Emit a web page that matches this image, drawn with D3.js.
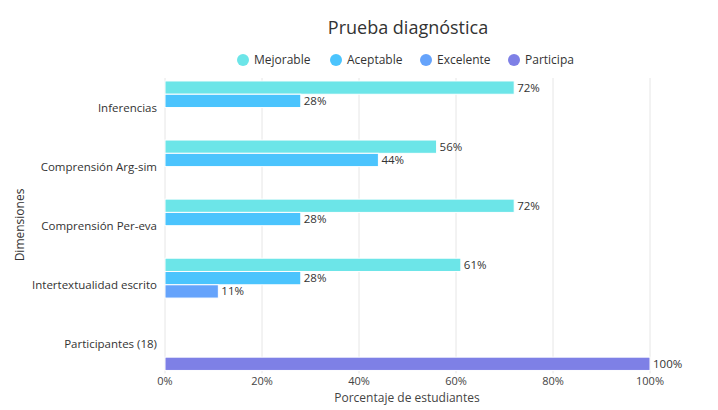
<!DOCTYPE html>
<html><head><meta charset="utf-8">
<script src="https://cdn.jsdelivr.net/npm/d3@7"></script>
<style>body{margin:0;background:#fff;font-family:"Open Sans",sans-serif;}</style>
</head><body><svg id="c" width="718" height="410"></svg>
<script>
const categories = ["Inferencias","Comprensión Arg-sim","Comprensión Per-eva","Intertextualidad escrito","Participantes (18)"];
const seriesNames = ["Mejorable","Aceptable","Excelente","Participa"];
const colors = ["#6ce5e8","#4bc4fd","#65a3fb","#7e80e6"];
const mejorable = [72,56,72,61,null];
const aceptable = [28,44,28,28,null];
const excelente = [null,null,null,11,null];
const participa = [null,null,null,null,100];
const xTicks = [0,20,40,60,80,100];
const seriesVals = [mejorable,aceptable,excelente,participa];

const svg = d3.select("#c");
const m = {l:165,r:650,t:78,b:373.4};
const x = d3.scaleLinear().domain([0,100]).range([m.l,m.r]);
const y = d3.scaleBand().domain(categories).range([m.t,m.b]).paddingInner(0.1).paddingOuter(0.05);
const y1 = d3.scaleBand().domain(seriesNames).range([0,y.bandwidth()]);

svg.append("text").attr("x",408).attr("y",34).attr("text-anchor","middle")
  .attr("font-size",18).attr("fill","#333").text("Prueba diagnóstica");

// grid
svg.append("g").selectAll("line").data(xTicks).join("line")
  .attr("x1",d=>x(d)).attr("x2",d=>x(d)).attr("y1",m.t).attr("y2",m.b)
  .attr("stroke","#e6e6e6").attr("stroke-width",1);

// x axis labels
svg.append("g").selectAll("text").data(xTicks).join("text")
  .attr("x",d=>x(d)).attr("y",385).attr("text-anchor","middle")
  .attr("font-size",11).attr("fill","#444").text(d=>d+"%");
svg.append("text").attr("x",407).attr("y",402).attr("text-anchor","middle")
  .attr("font-size",12).attr("fill","#444").text("Porcentaje de estudiantes");

// y labels
svg.append("g").selectAll("text").data(categories).join("text")
  .attr("x",m.l-8).attr("y",d=>y(d)+y.bandwidth()/2+4).attr("text-anchor","end")
  .attr("font-size",11.5).attr("fill","#333").text(d=>d);
svg.append("text").attr("transform","translate(24,225) rotate(-90)").attr("text-anchor","middle")
  .attr("font-size",12).attr("fill","#333").text("Dimensiones");

// bars
seriesNames.forEach((s,i)=>{
  const data = categories.map((c,j)=>({c,v:seriesVals[i][j]})).filter(d=>d.v!=null);
  const g = svg.append("g");
  g.selectAll("rect").data(data).join("rect")
    .attr("x",x(0)).attr("y",d=>y(d.c)+y1(s)).attr("width",d=>x(d.v)-x(0))
    .attr("height",y1.bandwidth()).attr("fill",colors[i]).attr("stroke","#fff").attr("stroke-width",1);
  g.selectAll("text").data(data).join("text")
    .attr("x",d=>x(d.v)+3).attr("y",d=>y(d.c)+y1(s)+y1.bandwidth()/2+4)
    .attr("font-size",11.5).attr("fill","#333").text(d=>d.v+"%");
});

// legend
const lx = [243,336,426,514];
const lg = svg.append("g").selectAll("g").data(seriesNames).join("g")
  .attr("transform",(d,i)=>`translate(${lx[i]},60)`);
lg.append("circle").attr("r",6).attr("fill",(d,i)=>colors[i]);
lg.append("text").attr("x",11).attr("y",4).attr("font-size",12).attr("fill","#333").text(d=>d);
</script></body></html>
